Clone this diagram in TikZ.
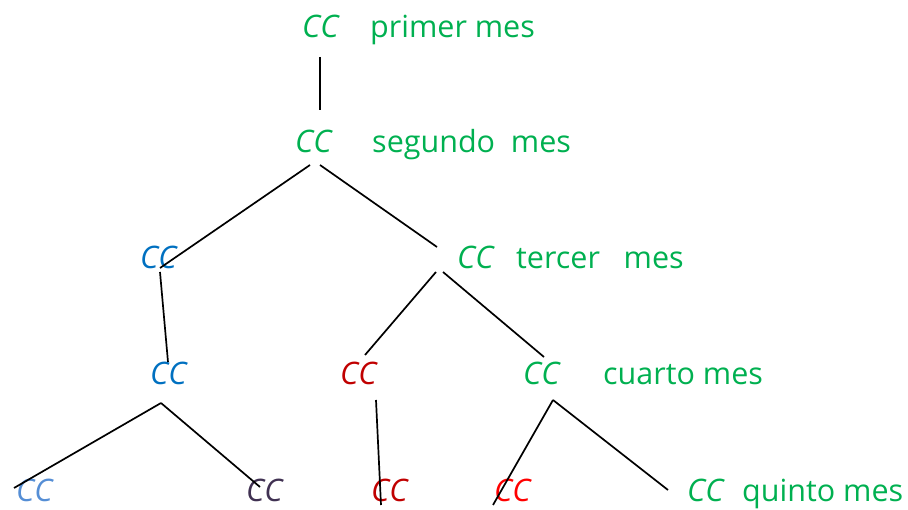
\documentclass[tikz,border=0pt]{standalone}
\usepackage{fontspec}
\setmainfont{Open Sans}
\definecolor{mesgreen}{RGB}{0,176,80}
\definecolor{ccblue}{RGB}{0,112,192}
\definecolor{ccdarkred}{RGB}{192,0,0}
\definecolor{ccred}{RGB}{255,0,0}
\definecolor{cclightblue}{RGB}{85,142,213}
\definecolor{ccpurple}{RGB}{64,49,82}
\tikzset{
  lbl/.style={anchor=base west, inner sep=0pt, font=\fontsize{30.5}{33}\selectfont},
  cc/.style={lbl, font=\fontsize{31}{33}\selectfont\itshape},
  branch/.style={draw=black, line width=1.7pt},
}
\begin{document}
\begin{tikzpicture}[x=1pt,y=-1pt]
\useasboundingbox (0,0) rectangle (908,510);
% row 1
\node[cc, text=mesgreen] (c1) at (302,38) {CC};
\node[lbl, text=mesgreen] (m1) at (370,38) {primer mes};
% row 2
\node[cc, text=mesgreen] (c2) at (295,153) {CC};
\node[lbl, text=mesgreen] (m2) at (372,153) {segundo\ \ mes};
% row 3
\node[cc, text=ccblue] (b3) at (140,269) {CC};
\node[cc, text=mesgreen] (c3) at (457,269) {CC};
\node[lbl, text=mesgreen] (m3) at (516,269) {tercer\ \ \ mes};
% row 4
\node[cc, text=ccblue] (b4) at (150,385) {CC};
\node[cc, text=ccdarkred] (r4) at (340,385) {CC};
\node[cc, text=mesgreen] (c4) at (523,385) {CC};
\node[lbl, text=mesgreen] (m4) at (603,385) {cuarto mes};
% row 5
\node[cc, text=cclightblue] (lb5) at (16,501) {CC};
\node[cc, text=ccpurple] (p5) at (246,501) {CC};
\node[cc, text=ccdarkred] (r5) at (371,501) {CC};
\node[cc, text=ccred] (rr5) at (494,501) {CC};
\node[cc, text=mesgreen] (c5) at (687,501) {CC};
\node[lbl, text=mesgreen] (m5) at (742,501) {quinto mes};
% branch end points
\coordinate (t1) at (320,57);
\coordinate (t2) at (320,110);
\coordinate (s2l) at (310,165);
\coordinate (s2r) at (320,165);
\coordinate (e3b) at (160,268);
\coordinate (e3g) at (437,247);
\coordinate (s3b) at (160,272);
\coordinate (e4b) at (168,362);
\coordinate (s3l) at (436,272);
\coordinate (s3r) at (443,272);
\coordinate (e4r) at (365,355);
\coordinate (e4g) at (544,357);
\coordinate (s4b) at (161,403);
\coordinate (e5lb) at (14,488);
\coordinate (e5p) at (260,487);
\coordinate (s4r) at (376,400);
\coordinate (e5r) at (381,505);
\coordinate (s4g) at (553,400);
\coordinate (e5rr) at (493,505);
\coordinate (e5g) at (668,490);
% branches
\draw[branch] (t1) -- (t2);
\draw[branch] (s2l) -- (e3b);
\draw[branch] (s2r) -- (e3g);
\draw[branch] (s3b) -- (e4b);
\draw[branch] (s3l) -- (e4r);
\draw[branch] (s3r) -- (e4g);
\draw[branch] (s4b) -- (e5lb);
\draw[branch] (s4b) -- (e5p);
\draw[branch] (s4r) -- (e5r);
\draw[branch] (s4g) -- (e5rr);
\draw[branch] (s4g) -- (e5g);
\end{tikzpicture}
\end{document}
